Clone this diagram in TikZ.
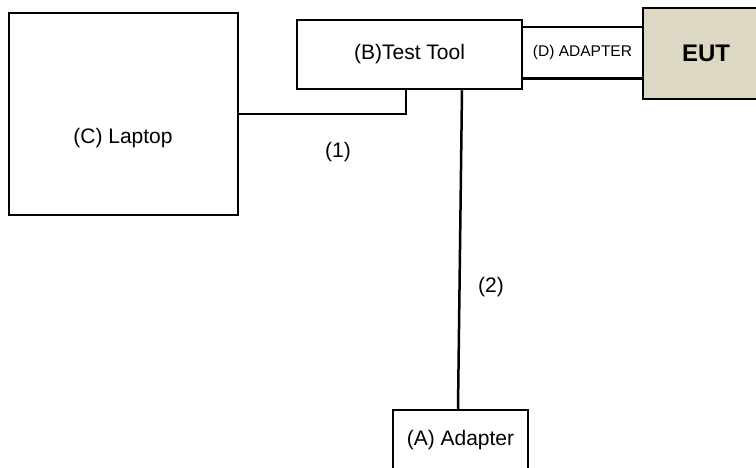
\documentclass[tikz,border=0pt]{standalone}
\usepackage{fontspec}
\setmainfont{Liberation Sans}
\usetikzlibrary{calc}
\definecolor{eutfill}{RGB}{221,216,196}
\begin{document}
\begin{tikzpicture}[x=1pt,y=-1pt,line width=2.5pt,
  every node/.style={inner sep=0pt,font=\fontsize{21}{25}\selectfont},
  box/.style={draw=black,rectangle,fill=white}]
  \useasboundingbox (0,0) rectangle (756,467);
  % Nodes
  \node[box,minimum width=229pt,minimum height=202pt] (laptop) at (123.5,114) {};
  \node (laptoptext) at (123,138) {(C) Laptop};
  \node[box,minimum width=225pt,minimum height=69pt] (tool) at (409.5,54.5) {(B)Test Tool};
  \node[minimum width=121pt,minimum height=49pt,font=\fontsize{15.5}{18}\selectfont] (dadapter) at (582.5,52.5) {(D) ADAPTER};
  \node[box,fill=eutfill,minimum width=126pt,minimum height=91pt,text width=114pt,align=center,font=\fontsize{24}{28}\bfseries] (eut) at (706,53.5) {EUT\hspace*{7pt}};
  \node[box,minimum width=135pt,minimum height=62pt] (adapter) at (460.5,441) {\raisebox{6pt}{(A) Adapter}};

  % Links
  \draw (dadapter.north west) -- (dadapter.north east);
  \draw (dadapter.south west) -- (dadapter.south east);
  \draw (laptop.east) -| ([xshift=-3.5pt]tool.south);
  \draw ([xshift=52.5pt]tool.south) -- ([xshift=-2.5pt]adapter.north);

  % Labels
  \node (lbl1) at (338,152) {(1)};
  \node (lbl2) at (491,287) {(2)};
\end{tikzpicture}
\end{document}
